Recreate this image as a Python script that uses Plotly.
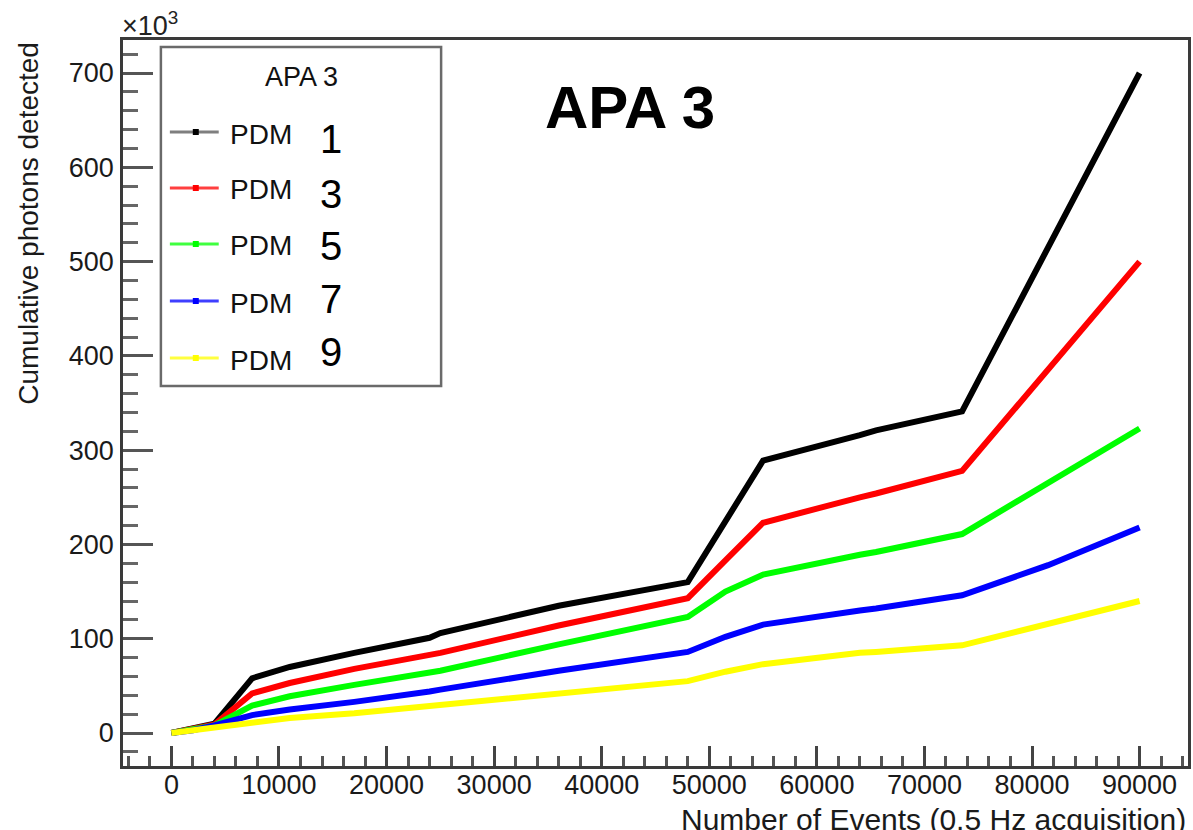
import plotly.graph_objects as go

# Number of events at each sampled point (0.5 Hz acquisition)
events = [0, 2000, 4000, 7500, 11000, 17000, 24000, 25000, 36000,
          48000, 51500, 55000, 64000, 65500, 73500, 81500, 90000]

# Cumulative photons detected, in units of 10^3
pdm1 = [0, 5, 10, 58, 70, 85, 101, 106, 135, 160, 224, 289, 316, 321, 341, 515, 700]
pdm3 = [0, 4, 9, 42, 53, 68, 82, 85, 114, 143, 183, 223, 250, 254, 278, 385, 500]
pdm5 = [0, 4, 8, 29, 39, 51, 64, 66, 94, 123, 150, 168, 189, 192, 211, 266, 323]
pdm7 = [0, 3, 8, 19, 25, 33, 44, 46, 66, 86, 102, 115, 130, 132, 146, 178, 218]
pdm9 = [0, 3, 6, 12, 16, 21, 29, 30, 42, 55, 65, 73, 85, 86, 93, 116, 140]

series_names = ["1", "3", "5", "7", "9"]
series_values = [pdm1, pdm3, pdm5, pdm7, pdm9]
series_colors = ["#000000", "#ff0000", "#00ff00", "#0000ff", "#ffff00"]

x_ticks = [0, 10000, 20000, 30000, 40000, 50000, 60000, 70000, 80000, 90000]
x_tick_labels = ["0", "10000", "20000", "30000", "40000", "50000",
                 "60000", "70000", "80000", "90000"]
y_ticks = [0, 100, 200, 300, 400, 500, 600, 700]
y_tick_labels = ["0", "100", "200", "300", "400", "500", "600", "700"]

FONT = "Liberation Sans, Arial, Helvetica, sans-serif"
W, H = 1193, 830
PL, PR, PT, PB = 123, 1191, 40, 766


def px(xp):
    return (xp - PL) / (PR - PL)


def py(yp):
    return (PB - yp) / (PB - PT)


fig = go.Figure()
for name, vals, col in zip(series_names, series_values, series_colors):
    fig.add_trace(go.Scatter(
        x=events, y=vals, mode="lines", name="PDM " + name,
        line=dict(color=col, width=6), showlegend=False,
    ))

axis_common = dict(
    showgrid=False, zeroline=False, showline=True, mirror=True,
    linecolor="#3a3a3a", linewidth=2.5, ticks="inside",
    tickfont=dict(family=FONT, size=27, color="#1a1a1a"),
)

fig.update_xaxes(
    range=[-4500, 94500], tickvals=x_ticks, ticktext=x_tick_labels,
    ticklen=20, tickwidth=2.5, tickcolor="#444444", ticklabelstandoff=-7,
    minor=dict(dtick=2000, tick0=0, ticklen=10, tickwidth=2.5,
               tickcolor="#555555", ticks="inside"),
    **axis_common,
)
fig.update_yaxes(
    range=[-35, 735], tickvals=y_ticks, ticktext=y_tick_labels,
    ticklen=30, tickwidth=3, tickcolor="#555555", ticklabelstandoff=1,
    minor=dict(dtick=20, tick0=0, ticklen=15, tickwidth=3,
               tickcolor="#666666", ticks="inside"),
    **axis_common,
)

shapes = []
annotations = []

# Legend frame
shapes.append(dict(type="rect", xref="paper", yref="paper",
                   x0=px(161), x1=px(442), y0=py(386), y1=py(47),
                   line=dict(color="#6a6a6a", width=2.5),
                   fillcolor="white", layer="above"))
annotations.append(dict(text="APA 3", xref="paper", yref="paper",
                        x=px(302), y=py(77), xanchor="center", yanchor="middle",
                        showarrow=False,
                        font=dict(family=FONT, size=27, color="#111111")))

row_y = [132, 188, 244, 301, 358]
num_y = [137, 192, 244, 297, 350]
for name, col, ry, ny in zip(series_names, series_colors, row_y, num_y):
    shapes.append(dict(type="line", xref="paper", yref="paper",
                       x0=px(170), x1=px(219), y0=py(ry), y1=py(ry),
                       line=dict(color=col if col != "#000000" else "#555555",
                                 width=3), opacity=0.75, layer="above"))
    shapes.append(dict(type="rect", xref="paper", yref="paper",
                       x0=px(193), x1=px(199), y0=py(ry + 3), y1=py(ry - 3),
                       line=dict(width=0), fillcolor=col, layer="above"))
    annotations.append(dict(text="PDM", xref="paper", yref="paper",
                            x=px(228), y=py(ry + 2), xanchor="left",
                            yanchor="middle", showarrow=False,
                            font=dict(family=FONT, size=28, color="#111111")))
    annotations.append(dict(text=name, xref="paper", yref="paper",
                            x=px(332), y=py(ny + 2), xanchor="center",
                            yanchor="middle", showarrow=False,
                            font=dict(family=FONT, size=40, color="#000000")))

# Large panel label
annotations.append(dict(text="<b>APA 3</b>", xref="paper", yref="paper",
                        x=px(631), y=py(108), xanchor="center", yanchor="middle",
                        showarrow=False,
                        font=dict(family=FONT, size=60, color="#000000")))

# Axis exponent
annotations.append(dict(text="×10<sup>3</sup>", xref="paper", yref="paper",
                        x=px(120), y=py(24), xanchor="left", yanchor="middle",
                        showarrow=False,
                        font=dict(family=FONT, size=27, color="#222222")))

# Axis titles
annotations.append(dict(text="Cumulative photons detected", xref="paper",
                        yref="paper", x=px(28), y=py(40), xanchor="center",
                        yanchor="top", textangle=-90, showarrow=False,
                        font=dict(family=FONT, size=28, color="#1a1a1a")))
annotations.append(dict(text="Number of Events (0.5 Hz acquisition)",
                        xref="paper", yref="paper", x=px(1191), y=py(801),
                        xanchor="right", yanchor="top", showarrow=False,
                        font=dict(family=FONT, size=30, color="#1a1a1a")))

fig.update_layout(
    width=W, height=H,
    margin=dict(l=PL, r=W - PR, t=PT, b=H - PB),
    paper_bgcolor="white", plot_bgcolor="white",
    shapes=shapes, annotations=annotations, showlegend=False,
)

fig.write_html("out.html")
